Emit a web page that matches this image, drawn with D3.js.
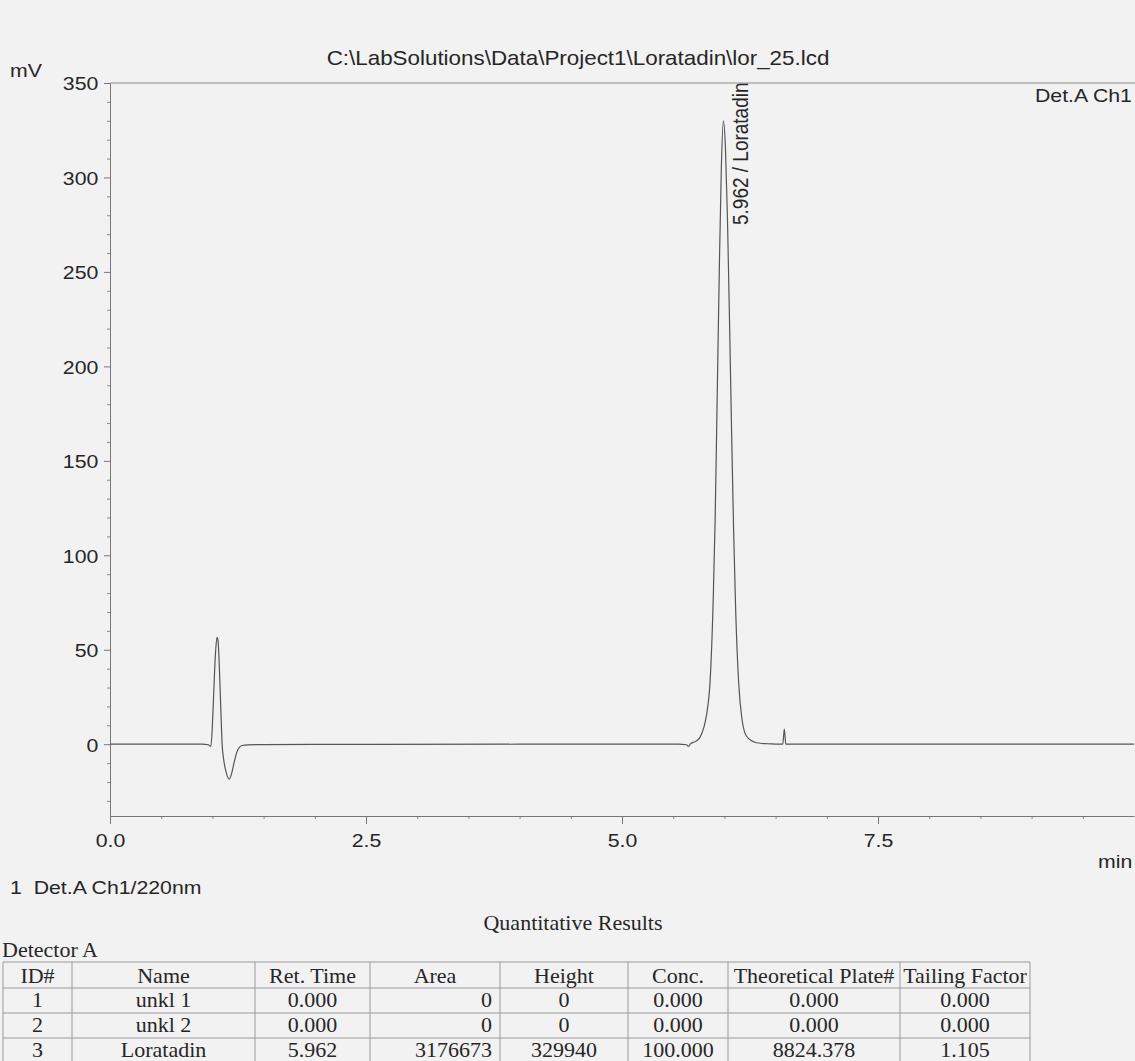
<!DOCTYPE html>
<html>
<head>
<meta charset="utf-8">
<script src="https://cdn.jsdelivr.net/npm/d3@7"></script>
<style>
  html, body { margin: 0; padding: 0; background: #f2f2f2; }
  svg { display: block; }
</style>
</head>
<body>
<svg id="chart" width="1135" height="1061"></svg>
<script>
// ---------------- DATA ----------------
const titleText = "C:\\LabSolutions\\Data\\Project1\\Loratadin\\lor_25.lcd";
const channelLabel = "Det.A Ch1";
const legendLabel = "1\u00A0\u00A0Det.A Ch1/220nm";
const peakLabel = "5.962 / Loratadin";
const peakLabelTime = 5.962;

// chromatogram (time in min, signal in mV)
const timeMin = [0, 0.5, 0.9, 0.96, 0.985, 1.0, 1.015, 1.03, 1.045, 1.055, 1.065, 1.08, 1.095, 1.11, 1.135, 1.165, 1.19, 1.215, 1.24, 1.265, 1.29, 1.35, 1.5, 2.5, 4.0, 5.0, 5.55, 5.63, 5.65, 5.67, 5.72, 5.76, 5.80, 5.83, 5.86, 5.89, 5.91, 5.93, 5.95, 5.97, 5.99, 6.01, 6.03, 6.05, 6.07, 6.09, 6.11, 6.14, 6.17, 6.20, 6.24, 6.29, 6.35, 6.45, 6.57, 6.585, 6.60, 7.5, 10];
const signalMv = [0, 0, 0, -0.3, -1.2, 10, 30, 48, 56.5, 55, 45, 22, 0, -8, -15, -18.5, -15, -9, -4, -1.5, -0.7, -0.3, -0.2, -0.1, 0, 0, 0, -0.3, -1.2, 0.3, 1.5, 3.5, 9, 17, 33, 75, 120, 185, 250, 305, 330, 316, 278, 224, 166, 113, 71, 32, 14, 6, 2.8, 1.2, 0.5, 0.2, 0, 8, 0, 0, 0];

const yMajorTicks = [0, 50, 100, 150, 200, 250, 300, 350];
const xMajorTicks = [0, 2.5, 5.0, 7.5];

// table
const tableTitle = "Quantitative Results";
const detectorLabel = "Detector A";
const tableHeaders = ["ID#", "Name", "Ret. Time", "Area", "Height", "Conc.", "Theoretical Plate#", "Tailing Factor"];
const peakIds = ["1", "2", "3"];
const peakNames = ["unkl 1", "unkl 2", "Loratadin"];
const retTimes = ["0.000", "0.000", "5.962"];
const areas = ["0", "0", "3176673"];
const heights = ["0", "0", "329940"];
const concs = ["0.000", "0.000", "100.000"];
const plates = ["0.000", "0.000", "8824.378"];
const tailing = ["0.000", "0.000", "1.105"];

// ---------------- LAYOUT ----------------
const svg = d3.select("#chart");
const W = 1135, H = 1061;
const sx = 1.12;             // horizontal stretch of the scanned print
const sans = "'Liberation Sans', Arial, sans-serif";
const serif = "'Liberation Serif', 'Times New Roman', serif";
const ink = "#262626";

svg.append("rect").attr("width", W).attr("height", H).attr("fill", "#f2f2f2");

const x = d3.scaleLinear().domain([0, 10]).range([110, 1134]);
const y = d3.scaleLinear().domain([-38, 350]).range([816, 83]);

function stext(g, px, py, str, anchor, size, rot) {
  return g.append("text")
    .attr("transform", rot ? `translate(${px},${py}) rotate(-90) scale(1,${sx})` : `translate(${px},${py}) scale(${sx},1)`)
    .attr("text-anchor", anchor || "start")
    .attr("font-family", sans)
    .attr("font-size", size || 19)
    .attr("fill", ink)
    .text(str);
}

// top frame line
svg.append("line").attr("x1", x(0)).attr("x2", W).attr("y1", y(350)).attr("y2", y(350))
  .attr("stroke", "#8a8a8a").attr("stroke-width", 1);

// y axis minor ticks
const yMinor = d3.range(-30, 351, 10).filter(v => v % 50 !== 0);
svg.append("g").attr("transform", `translate(${x(0)},0)`)
  .call(d3.axisLeft(y).tickValues(yMinor).tickSize(3).tickSizeOuter(0).tickFormat(""))
  .call(g => g.select(".domain").remove())
  .call(g => g.selectAll("line").attr("stroke", "#8a8a8a"));

// y axis major
const yAxis = svg.append("g").attr("transform", `translate(${x(0)},0)`)
  .call(d3.axisLeft(y).tickValues(yMajorTicks).tickSize(6).tickSizeOuter(0).tickFormat(d3.format("d")));
yAxis.select(".domain").attr("stroke", "#777");
yAxis.selectAll(".tick line").attr("stroke", "#777");
yAxis.selectAll(".tick text")
  .attr("font-family", sans).attr("font-size", 19).attr("fill", ink)
  .attr("x", -11.7 / sx).attr("dy", "0.36em")
  .attr("transform", `scale(${sx},1)`);

// x axis minor ticks
const xMinor = d3.range(0.5, 10, 0.5).filter(v => Math.abs(v / 2.5 - Math.round(v / 2.5)) > 1e-6);
svg.append("g").attr("transform", `translate(0,${y(-38)})`)
  .call(d3.axisBottom(x).tickValues(xMinor).tickSize(3).tickSizeOuter(0).tickFormat(""))
  .call(g => g.select(".domain").remove())
  .call(g => g.selectAll("line").attr("stroke", "#8a8a8a"));

// x axis major
const xAxis = svg.append("g").attr("transform", `translate(0,${y(-38)})`)
  .call(d3.axisBottom(x).tickValues(xMajorTicks).tickSize(8).tickSizeOuter(0).tickFormat(d3.format(".1f")));
xAxis.select(".domain").attr("stroke", "#777");
xAxis.selectAll(".tick line").attr("stroke", "#777");
xAxis.selectAll(".tick text")
  .attr("font-family", sans).attr("font-size", 19).attr("fill", ink)
  .attr("dy", null).attr("y", 31).attr("x", 0)
  .attr("transform", `scale(${sx},1)`);

// chromatogram line
const pts = timeMin.map((t, i) => [t, signalMv[i]]);
const line = d3.line().x(d => x(d[0])).y(d => y(d[1])).curve(d3.curveMonotoneX);
svg.append("path").datum(pts).attr("d", line)
  .attr("fill", "none").attr("stroke", "#555").attr("stroke-width", 1.2);

// texts
stext(svg, 578, 65, titleText, "middle", 20);
stext(svg, 10, 77, "mV", "start", 19);
stext(svg, 1035, 102, channelLabel, "start", 19);
stext(svg, 1098, 868, "min", "start", 19);
stext(svg, 10, 894, legendLabel, "start", 19);
stext(svg, x(peakLabelTime) + 27, 225, peakLabel, "start", 19, true);

// ---------------- TABLE ----------------
const colX = [3, 72, 255, 370, 500, 628, 728, 900, 1030];
const rowY = [962, 988, 1013, 1038, 1062];
const cols = [peakIds, peakNames, retTimes, areas, heights, concs, plates, tailing];
const align = ["middle", "middle", "middle", "end", "middle", "middle", "middle", "middle"];

const tg = svg.append("g");
tg.append("text").attr("x", 573).attr("y", 930).attr("text-anchor", "middle")
  .attr("font-family", serif).attr("font-size", 22).attr("fill", ink).text(tableTitle);
tg.append("text").attr("x", 2).attr("y", 957)
  .attr("font-family", serif).attr("font-size", 22).attr("fill", ink).text(detectorLabel);

rowY.forEach(ry => tg.append("line").attr("x1", colX[0]).attr("x2", colX[colX.length - 1])
  .attr("y1", ry).attr("y2", ry).attr("stroke", "#9a9a9a").attr("stroke-width", 1));
colX.forEach(cx => tg.append("line").attr("x1", cx).attr("x2", cx)
  .attr("y1", rowY[0]).attr("y2", rowY[rowY.length - 1]).attr("stroke", "#9a9a9a").attr("stroke-width", 1));

function cellX(c, a) {
  if (a === "end") return colX[c + 1] - 8;
  return (colX[c] + colX[c + 1]) / 2;
}
tableHeaders.forEach((h, c) => {
  tg.append("text").attr("x", (colX[c] + colX[c + 1]) / 2).attr("y", rowY[0] + 21)
    .attr("text-anchor", "middle").attr("font-family", serif).attr("font-size", 22).attr("fill", ink).text(h);
});
cols.forEach((vals, c) => {
  vals.forEach((v, r) => {
    tg.append("text").attr("x", cellX(c, align[c])).attr("y", rowY[r + 1] + 19)
      .attr("text-anchor", align[c]).attr("font-family", serif).attr("font-size", 22).attr("fill", ink).text(v);
  });
});
</script>
</body>
</html>
